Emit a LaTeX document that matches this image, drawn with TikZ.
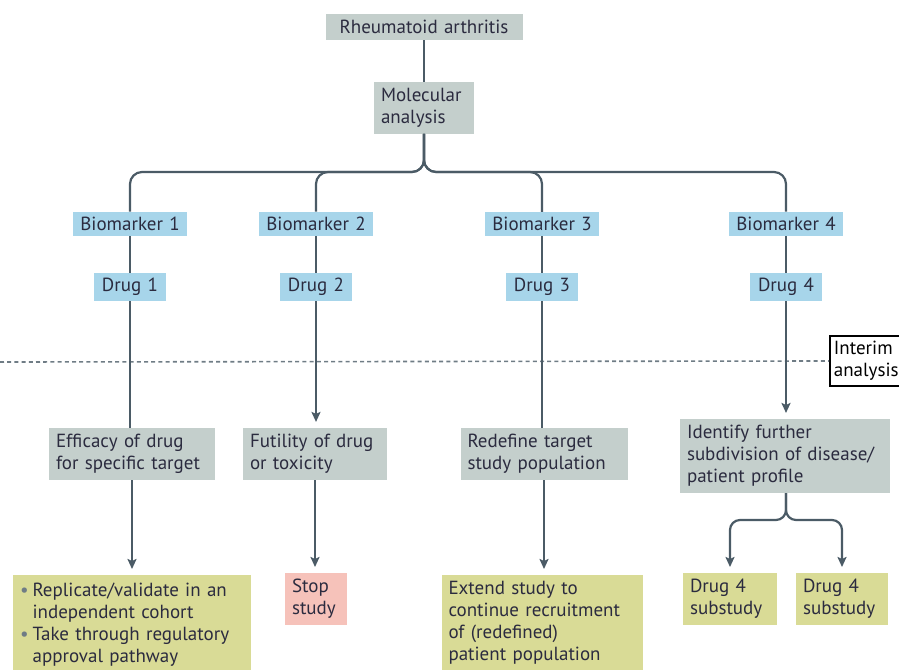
\documentclass[tikz,border=0pt]{standalone}
\usepackage{fontspec}
\setmainfont{PT Sans}
\usetikzlibrary{arrows.meta}

\definecolor{boxgrey}{HTML}{C4CFCC}
\definecolor{markerblue}{HTML}{A7D5EA}
\definecolor{resultolive}{HTML}{D9DB96}
\definecolor{stoppink}{HTML}{F6C2BA}
\definecolor{linkgrey}{HTML}{4B5B66}
\definecolor{inkblue}{HTML}{2B2B3F}

\begin{document}
\begin{tikzpicture}[x=0.5pt, y=-0.5pt,
    every node/.style={font=\fontsize{9.5}{11}\selectfont, text=inkblue,
        inner xsep=3.5pt, inner ysep=3pt},
    greybox/.style={fill=boxgrey, align=left},
    markerbox/.style={fill=markerblue, align=center, inner ysep=2.5pt},
    resultbox/.style={fill=resultolive, align=left, anchor=north},
    stopbox/.style={fill=stoppink, align=left, anchor=north},
    link/.style={draw=linkgrey, line width=1.1pt},
    arrowlink/.style={link, -{Stealth[length=5pt, width=4.5pt, inset=1pt]}, shorten >=3pt}
]

    % Frame
    \useasboundingbox (0,0) rectangle (899,669);

    % Top of tree
    \node[greybox, align=center, text width=91.5pt] (ra) at (424,27) {Rheumatoid arthritis};
    \node[greybox, text width=43pt] (mol) at (424,108) {Molecular\\analysis};
    \coordinate (split) at (424,172);

    % Biomarkers and drugs
    \node[markerbox, text width=50pt] (bm1) at (130,224) {Biomarker 1};
    \node[markerbox, text width=50pt] (bm2) at (316,224) {Biomarker 2};
    \node[markerbox, text width=50pt] (bm3) at (542,224) {Biomarker 3};
    \node[markerbox, text width=50pt] (bm4) at (786,224) {Biomarker 4};

    \node[markerbox, text width=29pt] (dr1) at (130,287) {Drug 1};
    \node[markerbox, text width=29pt] (dr2) at (316,287) {Drug 2};
    \node[markerbox, text width=29pt] (dr3) at (542,287) {Drug 3};
    \node[markerbox, text width=29pt] (dr4) at (786,287) {Drug 4};

    % Interim analysis
    \node[draw=black, line width=0.9pt, fill=white, align=left, anchor=west, text=black,
        inner ysep=2.5pt, inner xsep=2pt] (interim) at (829,361) {Interim\\analysis};
    \coordinate (dotstart) at (0,362);
    \draw[linkgrey!80, line width=0.8pt, dash pattern=on 2pt off 1.6pt] (dotstart) -- (interim.west);

    % Outcomes
    \node[greybox, text width=76pt] (eff) at (132,454) {Efficacy of drug\\for specific target};
    \node[greybox, text width=65pt] (fut) at (315,454) {Futility of drug\\or toxicity};
    \node[greybox, text width=76.5pt] (red) at (544,454) {Redefine target\\study population};
    \node[greybox, text width=98pt] (ident) at (785,456) {Identify further\\subdivision of disease/\\patient profile};
    \coordinate (split4) at (786,520);

    % Actions
    \node[resultbox, text width=112pt] (rep) at (132,575) {%
        \begin{tabular}{@{}l@{\hspace{2pt}}l@{}}
        \textcolor{linkgrey!80}{\textbullet} & Replicate/validate in an\\
         & independent cohort\\
        \textcolor{linkgrey!80}{\textbullet} & Take through regulatory\\
         & approval pathway
        \end{tabular}};
    \node[stopbox, text width=24pt] (stop) at (316,573) {Stop\\study};
    \node[resultbox, text width=93.5pt] (ext) at (542,575) {Extend study to\\continue recruitment\\of (redefined)\\patient population};
    \node[resultbox, text width=40pt] (sub1) at (730,573) {Drug 4\\substudy};
    \node[resultbox, text width=39pt] (sub2) at (842,573) {Drug 4\\substudy};

    % Connectors
    \draw[link] (ra) -- (mol);
    \draw[link, rounded corners=6pt] (mol.south) -- (split) -| (bm1.north);
    \draw[link, rounded corners=6pt] (mol.south) -- (split) -| (bm2.north);
    \draw[link, rounded corners=6pt] (mol.south) -- (split) -| (bm3.north);
    \draw[link, rounded corners=6pt] (mol.south) -- (split) -| (bm4.north);

    \draw[link] (bm1) -- (dr1);
    \draw[link] (bm2) -- (dr2);
    \draw[link] (bm3) -- (dr3);
    \draw[link] (bm4) -- (dr4);

    \draw[link] (dr1) -- (dr1 |- eff.north);
    \draw[arrowlink] (dr2) -- (dr2 |- fut.north);
    \draw[link] (dr3) -- (dr3 |- red.north);
    \draw[arrowlink] (dr4) -- (dr4 |- ident.north);

    \draw[arrowlink] (eff) -- (eff |- rep.north);
    \draw[arrowlink] (fut) -- (fut |- stop.north);
    \draw[arrowlink] (red) -- (red |- ext.north);
    \draw[arrowlink, rounded corners=5pt] (ident.south -| split4) -- (split4) -| (sub1.north);
    \draw[arrowlink, rounded corners=5pt] (ident.south -| split4) -- (split4) -| (sub2.north);

\end{tikzpicture}
\end{document}
